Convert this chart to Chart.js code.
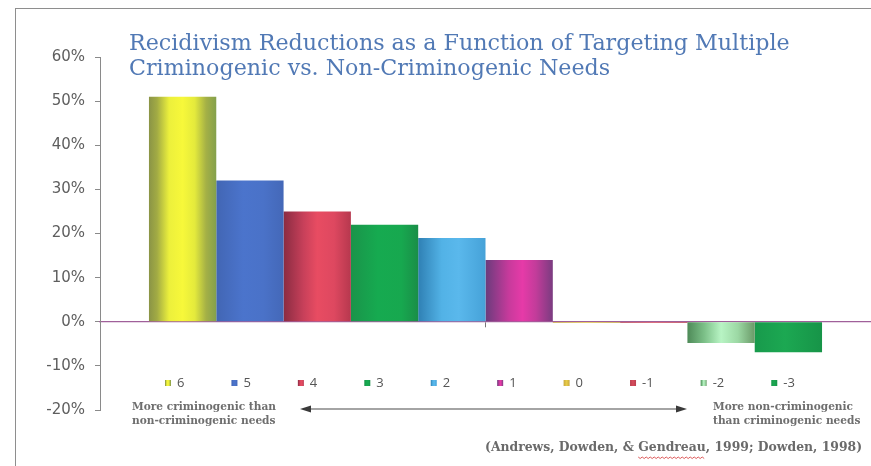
<!DOCTYPE html>
<html>
<head>
<meta charset="utf-8">
<title>Recidivism Reductions</title>
<script src="https://cdn.jsdelivr.net/npm/chart.js@4/dist/chart.umd.min.js"></script>
<style>
  html, body { margin: 0; padding: 0; background: #ffffff; overflow: hidden; }
  #wrap { position: relative; width: 871px; height: 466px; overflow: hidden; }
  #topRule { position: absolute; left: 15px; top: 8px; width: 856px; height: 1px; background: #8e8e8e; }
  #leftRule { position: absolute; left: 15px; top: 8px; width: 1px; height: 458px; background: #8e8e8e; }
  canvas { display: block; position: absolute; left: 0; top: 0; }
</style>
</head>
<body>
<div id="wrap"><canvas id="chart" width="871" height="466"></canvas><div id="topRule"></div><div id="leftRule"></div></div>
<script>
// Net number of criminogenic minus non-criminogenic needs targeted
const seriesNames = ['6', '5', '4', '3', '2', '1', '0', '-1', '-2', '-3'];
// Reduction in recidivism (%) for each group
const reductionPct = [51, 32, 25, 22, 19, 14, -0.3, -0.3, -4.8, -6.9];
const categories = [''];
const yTickValues = [-20, -10, 0, 10, 20, 30, 40, 50, 60];

const titleLines = [
  'Recidivism Reductions as a Function of Targeting Multiple',
  'Criminogenic vs. Non-Criminogenic Needs'
];
const leftNote = ['More criminogenic than', 'non-criminogenic needs'];
const rightNote = ['More non-criminogenic', 'than criminogenic needs'];
const citation = '(Andrews, Dowden, & Gendreau, 1999; Dowden, 1998)';
const underlinedWord = 'Gendreau';

// Cylinder-style shading across each bar (left edge -> right edge)
const barShades = [
  [[0, '#8a9446'], [0.12, '#a2ab44'], [0.3, '#ecf03c'], [0.5, '#f7f83a'], [0.68, '#e4ea3c'], [0.85, '#a4b046'], [1, '#84a04c']],
  [[0, '#4266b4'], [0.4, '#4b74cc'], [0.7, '#4a72c8'], [1, '#4468b8']],
  [[0, '#8a2c42'], [0.3, '#c8405a'], [0.5, '#e84c62'], [0.75, '#de4860'], [1, '#b6384e']],
  [[0, '#1a944a'], [0.4, '#16aa50'], [0.75, '#17a84f'], [1, '#1a8e48']],
  [[0, '#2f80b4'], [0.35, '#52b2e6'], [0.6, '#5ab8ec'], [1, '#46a2d8']],
  [[0, '#6a3c7c'], [0.35, '#c83a9c'], [0.55, '#e63aa8'], [0.75, '#c23c9a'], [1, '#7a3c80']],
  [[0, '#c8a840'], [0.5, '#e8cc48'], [1, '#c8a840']],
  [[0, '#b84050'], [0.5, '#d84c5c'], [1, '#b84050']],
  [[0, '#4e8a58'], [0.25, '#7cc088'], [0.5, '#b8f4c4'], [0.75, '#9cd8a4'], [1, '#6a9a68']],
  [[0, '#189a4c'], [0.45, '#1ca852'], [1, '#179448']]
];
const swatchColors = ['#e6e85a', '#4a70c8', '#d04858', '#1aa050', '#4aa8dc', '#d448a8', '#e2c44a', '#d05060', '#b4e8bc', '#1a9a50'];

function shade(ctx, stops, x0, x1) {
  const g = ctx.createLinearGradient(x0, 0, x1, 0);
  stops.forEach(([o, col]) => g.addColorStop(o, col));
  return g;
}

// Applies the horizontal shading to every bar once its geometry is known
const barShading = {
  id: 'barShading',
  beforeDatasetsDraw(chart) {
    const c = chart.ctx;
    chart.data.datasets.forEach((ds, i) => {
      chart.getDatasetMeta(i).data.forEach(bar => {
        const g = shade(c, barShades[i], bar.x - bar.width / 2, bar.x + bar.width / 2);
        bar.options = Object.assign({}, bar.options, { backgroundColor: g });
      });
    });
  }
};

// Heading, legend strip, direction arrow and source line
const decorations = {
  id: 'decorations',
  afterDraw(chart) {
    const c = chart.ctx;
    c.save();

    // heading
    c.font = '22.2px "DejaVu Serif"';
    c.fillStyle = '#5179b5';
    c.textBaseline = 'alphabetic';
    c.textAlign = 'left';
    c.fillText(titleLines[0], 129, 50);
    c.fillText(titleLines[1], 129, 75);

    // legend strip
    c.font = '13px "Open Sans"';
    c.textBaseline = 'middle';
    let lx = 165;
    const ly = 383;
    seriesNames.forEach((name, i) => {
      c.fillStyle = shade(c, barShades[i], lx, lx + 6);
      c.fillRect(lx, ly - 3, 6, 6);
      c.fillStyle = '#555555';
      c.fillText(name, lx + 12, ly);
      lx += 12 + c.measureText(name).width + 47;
    });

    // notes at either end of the arrow
    c.font = 'bold 10.6px "DejaVu Serif"';
    c.fillStyle = '#6e6e6e';
    c.fillText(leftNote[0], 132, 407);
    c.fillText(leftNote[1], 132, 421);
    c.fillText(rightNote[0], 713, 407);
    c.fillText(rightNote[1], 713, 421);

    // double-ended arrow
    const ay = 409, ax0 = 300, ax1 = 687;
    c.strokeStyle = '#4a4a4a';
    c.fillStyle = '#3a3a3a';
    c.lineWidth = 1.2;
    c.beginPath(); c.moveTo(ax0 + 6, ay); c.lineTo(ax1 - 6, ay); c.stroke();
    c.beginPath(); c.moveTo(ax0, ay); c.lineTo(ax0 + 11, ay - 3.5); c.lineTo(ax0 + 11, ay + 3.5); c.closePath(); c.fill();
    c.beginPath(); c.moveTo(ax1, ay); c.lineTo(ax1 - 11, ay - 3.5); c.lineTo(ax1 - 11, ay + 3.5); c.closePath(); c.fill();

    // source line
    c.font = 'bold 12.4px "DejaVu Serif"';
    c.fillStyle = '#6a6a6a';
    c.textAlign = 'left';
    const total = c.measureText(citation).width;
    const cx = 862 - total;
    c.fillText(citation, cx, 448);
    const idx = citation.indexOf(underlinedWord);
    const wx = cx + c.measureText(citation.slice(0, idx)).width;
    const ww = c.measureText(underlinedWord).width;
    c.strokeStyle = '#d84848';
    c.lineWidth = 0.9;
    c.beginPath();
    for (let x = 0; x <= ww; x += 2) {
      const yy = 457 + ((x / 2) % 2 === 0 ? 0 : 1.5);
      if (x === 0) c.moveTo(wx + x, yy); else c.lineTo(wx + x, yy);
    }
    c.stroke();

    c.restore();
  }
};

const ctx = document.getElementById('chart').getContext('2d');
new Chart(ctx, {
  type: 'bar',
  data: {
    labels: categories,
    datasets: seriesNames.map((name, i) => ({
      label: name,
      data: [reductionPct[i]],
      backgroundColor: swatchColors[i],
      borderWidth: 0,
      categoryPercentage: 0.873,
      barPercentage: 1
    }))
  },
  options: {
    responsive: false,
    animation: false,
    layout: { padding: { top: 57, bottom: 56, left: 0, right: 0 } },
    plugins: {
      legend: { display: false },
      title: { display: false },
      tooltip: { enabled: false }
    },
    scales: {
      x: {
        position: { y: 0 },
        grid: { drawOnChartArea: false, offset: false, tickLength: 5, color: '#777777' },
        border: { display: true, color: '#a0609a', dash: [2, 3], width: 1.3 },
        ticks: { display: false }
      },
      y: {
        min: -20,
        max: 60,
        afterBuildTicks(scale) { scale.ticks = yTickValues.map(v => ({ value: v })); },
        afterFit(scale) { scale.width = 100; },
        ticks: {
          callback: v => v + '%',
          color: '#5e5e5e',
          font: { family: 'DejaVu Sans', size: 15 },
          padding: 10
        },
        grid: { drawOnChartArea: false, tickLength: 5, color: '#8a8a8a' },
        border: { color: '#8a8a8a', width: 1 }
      }
    }
  },
  plugins: [barShading, decorations]
});
</script>
</body>
</html>
